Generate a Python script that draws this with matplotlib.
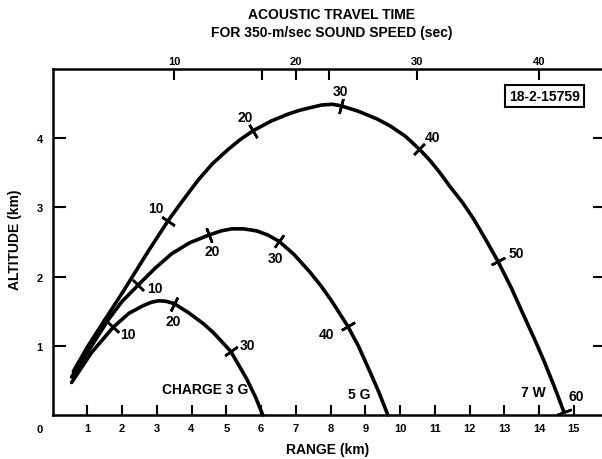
import matplotlib
matplotlib.use('Agg')
import matplotlib.pyplot as plt
import numpy as np

plt.rcParams['font.family'] = ['Liberation Sans', 'DejaVu Sans']
plt.rcParams['font.weight'] = 'bold'

# ---- data (range km, altitude km) ----
w7_x = [0.60, 1.00, 1.51, 1.99, 2.40, 2.76, 3.33, 3.75, 4.20, 4.60, 5.06, 5.40,
        5.78, 6.30, 6.79, 7.12, 7.41, 7.75, 8.05, 8.29, 8.80, 9.33, 9.71, 10.15,
        10.56, 10.86, 11.15, 11.44, 11.80, 12.11, 12.45, 12.82, 13.20, 13.55,
        13.85, 14.12, 14.45, 14.72]
w7_y = [0.63, 0.98, 1.38, 1.75, 2.08, 2.37, 2.81, 3.10, 3.40, 3.63, 3.84, 3.98,
        4.11, 4.25, 4.35, 4.405, 4.44, 4.48, 4.49, 4.47, 4.39, 4.28, 4.18, 4.03,
        3.84, 3.68, 3.50, 3.30, 3.07, 2.84, 2.55, 2.22, 1.84, 1.45,
        1.12, 0.81, 0.40, 0.04]
w7_mark_x = [3.33, 5.78, 8.29, 10.56, 12.82, 14.72]
w7_mark_y = [2.81, 4.11, 4.47, 3.84, 2.22, 0.04]
w7_mark_t = [10, 20, 30, 40, 50, 60]

g5_x = [0.55, 1.00, 1.61, 2.00, 2.47, 2.95, 3.43, 3.95, 4.50, 4.85, 5.16, 5.50,
        5.88, 6.20, 6.52, 6.95, 7.40, 7.72, 8.03, 8.49, 8.80, 9.14, 9.40, 9.65]
g5_y = [0.55, 0.90, 1.38, 1.64, 1.88, 2.12, 2.33, 2.49, 2.60, 2.66, 2.69, 2.69,
        2.66, 2.60, 2.51, 2.32, 2.07, 1.87, 1.65, 1.29, 1.00, 0.62, 0.32, 0.00]
g5_mark_x = [2.47, 4.50, 6.52, 8.49]
g5_mark_y = [1.88, 2.60, 2.51, 1.29]
g5_mark_t = [10, 20, 30, 40]

g3_x = [0.55, 1.12, 1.75, 2.20, 2.61, 2.85, 3.05, 3.25, 3.50, 3.91, 4.34, 4.63,
        5.13, 5.59, 5.85, 6.05]
g3_y = [0.47, 0.90, 1.27, 1.47, 1.58, 1.63, 1.65, 1.645, 1.61, 1.48, 1.32, 1.19,
        0.92, 0.52, 0.25, 0.00]
g3_mark_x = [1.75, 3.50, 5.13]
g3_mark_y = [1.27, 1.61, 0.92]
g3_mark_t = [10, 20, 30]

x_ticks = list(range(1, 16))
y_ticks = [1, 2, 3, 4]
top_ticks = [10, 20, 30, 40]
top_minor = [17.2, 22.7]
sound_speed = 0.35  # km/s

# ---- figure ----
fig = plt.figure(figsize=(6.02, 4.6), dpi=100)
ax = fig.add_axes([52.5 / 602, 44 / 460, (606 - 52.5) / 602, 346 / 460])
ax.set_xlim(0, (606 - 52.5) / 34.75)
ax.set_ylim(0, 5)

for s in ['left', 'bottom', 'right']:
    ax.spines[s].set_linewidth(1.8)
ax.spines['top'].set_visible(False)

ax.set_xticks(x_ticks)
ax.set_yticks(y_ticks)
ax.tick_params(axis='x', direction='in', length=7.5, width=1.5, pad=6, labelsize=8)
ax.tick_params(axis='y', direction='in', length=9.5, width=1.5, pad=7, labelsize=8,
               right=True)

sec = ax.secondary_xaxis('top', functions=(lambda k: k / sound_speed,
                                           lambda s: s * sound_speed))
sec.set_xticks(top_ticks)
sec.set_xticks(top_minor, minor=True)
sec.tick_params(axis='x', which='both', direction='in', length=8, width=1.5,
                pad=2, labelsize=8)
sec.spines['top'].set_linewidth(1.8)

ax.text(-0.36, -0.2, '0', ha='center', va='center', fontsize=8, clip_on=False)

curves = [(w7_x, w7_y, w7_mark_x, w7_mark_y, w7_mark_t,
           [(-12, 13), (-8, 14), (0, 15), (13, 12), (18, 8), (12, 16)]),
          (g5_x, g5_y, g5_mark_x, g5_mark_y, g5_mark_t,
           [(17, -3), (3, -16), (-4, -17), (-21, -8)]),
          (g3_x, g3_y, g3_mark_x, g3_mark_y, g3_mark_t,
           [(15, -7), (-1, -17), (17, 6)])]

for cx, cy, mx, my, mt, offs in curves:
    ax.plot(cx, cy, color='black', lw=2.6, solid_joinstyle='round',
            solid_capstyle='round', clip_on=False)

fig.canvas.draw()
for cx, cy, mx, my, mt, offs in curves:
    pts = ax.transData.transform(np.column_stack([cx, cy]))
    cxa, cya = np.array(cx), np.array(cy)
    for x, y, t, (dx, dy) in zip(mx, my, mt, offs):
        i = int(np.argmin(np.hypot(cxa - x, cya - y)))
        a = pts[max(i - 1, 0)]
        b = pts[min(i + 1, len(cx) - 1)]
        ang = np.degrees(np.arctan2(b[1] - a[1], b[0] - a[0]))
        ax.plot([x], [y], marker=(2, 2, ang), ms=11, mew=1.8, color='black',
                clip_on=False)
        ax.annotate(str(t), (x, y), xytext=(dx, dy), textcoords='offset pixels',
                    ha='center', va='center', fontsize=10)

ax.text(4.39, 0.376, 'CHARGE 3 G', ha='center', va='center', fontsize=10)
ax.text(8.82, 0.30, '5 G', ha='center', va='center', fontsize=10)
ax.text(13.84, 0.33, '7 W', ha='center', va='center', fontsize=10)

ax.text(14.16, 4.61, '18-2-15759', ha='center', va='center', fontsize=10,
        bbox=dict(boxstyle='square,pad=0.3', fc='white', ec='black', lw=1.5))

fig.text(328 / 602, 1 - 450 / 460, 'RANGE (km)', ha='center', va='center', fontsize=10)
fig.text(15 / 602, 1 - 240 / 460, 'ALTITUDE (km)', ha='center', va='center',
         fontsize=10, rotation=90)
fig.text(331 / 602, 1 - 15 / 460, 'ACOUSTIC TRAVEL TIME', ha='center', va='center',
         fontsize=10)
fig.text(332 / 602, 1 - 33 / 460, 'FOR 350-m/sec SOUND SPEED (sec)', ha='center',
         va='center', fontsize=10)

fig.savefig('out.png', dpi=100)
